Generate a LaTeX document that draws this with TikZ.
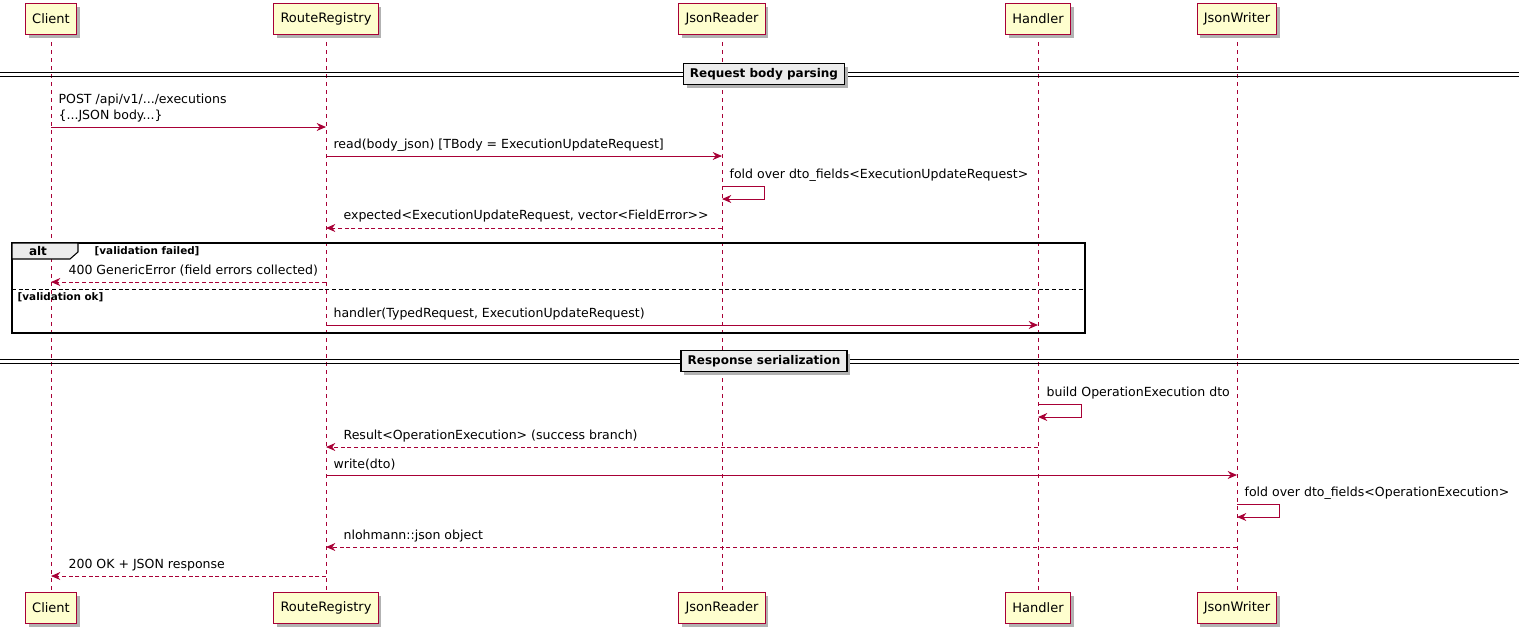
\documentclass[tikz,border=0pt]{standalone}
\usepackage{fontspec}
\setmainfont{DejaVu Sans}
\usetikzlibrary{arrows.meta,shadows}
\definecolor{pr}{HTML}{A80036}
\definecolor{pf}{HTML}{FEFECE}
\begin{document}
\begin{tikzpicture}[x=0.75pt,y=-0.75pt,
  shd/.style={drop shadow={shadow xshift=2.5pt,shadow yshift=-2.5pt,fill=gray!60,opacity=1}},
  part/.style={draw=pr,fill=pf,line width=0.8pt,minimum height=23pt,inner xsep=5pt,font=\fontsize{9.75}{11}\selectfont,anchor=north,shd},
  life/.style={pr,dashed,line width=0.6pt},
  msg/.style={pr,line width=0.7pt,-{Stealth[length=7pt,width=6pt]}},
  ret/.style={msg,densely dashed},
  lab/.style={font=\fontsize{9.4}{11.5}\selectfont,anchor=south west,inner sep=1pt},
  div/.style={draw,fill=gray!15,line width=1pt,font=\bfseries\fontsize{9}{11}\selectfont,inner xsep=5pt,inner ysep=3.5pt,shd}]
\useasboundingbox (0,0) rectangle (1529,633);
\foreach \n/\x/\t in {c/51/Client,r/326/RouteRegistry,j/722/JsonReader,h/1038/Handler,w/1237/JsonWriter}{
  \draw[life] (\x,34) -- (\x,592);
  \node[part] (\n t) at (\x,3) {\t};
  \node[part] (\n b) at (\x,592) {\t};
}
% dividers
\foreach \y/\t in {74/Request body parsing,361/Response serialization}{
  \draw[line width=0.7pt] (0,\y-2) -- (1519,\y-2) (0,\y+2) -- (1519,\y+2);
  \node[div] at (764,\y) {\t};
}
% messages
\draw[msg] (51,127) -- (326,127);
\node[lab] at (57,124) {\shortstack[l]{POST /api/v1/.../executions\\\{...JSON body...\}}};
\draw[msg] (326,156) -- (722,156);
\node[lab] at (332,153) {read(body\_json) [TBody = ExecutionUpdateRequest]};
\draw[msg] (722,186) -- (764,186) -- (764,199) -- (722,199);
\node[lab] at (728,183) {fold over dto\_fields<ExecutionUpdateRequest>};
\draw[ret] (722,228) -- (326,228);
\node[lab] at (342,224) {expected<ExecutionUpdateRequest, vector<FieldError>{}>};
% alt
\draw[line width=1.3pt] (12,243) rectangle (1085,333);
\draw[line width=0.8pt,fill=gray!15] (12,243) -- (78,243) -- (78,252) -- (70,259) -- (12,259) -- cycle;
\node[font=\bfseries\fontsize{9}{11}\selectfont] at (38,251) {alt};
\node[font=\bfseries\fontsize{7.8}{9}\selectfont,anchor=west] at (90,251) {[validation failed]};
\draw[ret] (326,282) -- (51,282);
\node[lab] at (67,278) {400 GenericError (field errors collected)};
\draw[densely dashed,line width=0.6pt] (12,289) -- (1085,289);
\node[font=\bfseries\fontsize{7.8}{9}\selectfont,anchor=west] at (13,297) {[validation ok]};
\draw[msg] (326,325) -- (1038,325);
\node[lab] at (332,322) {handler(TypedRequest, ExecutionUpdateRequest)};
% response
\draw[msg] (1038,404) -- (1081,404) -- (1081,417) -- (1038,417);
\node[lab] at (1045,401) {build OperationExecution dto};
\draw[ret] (1038,447) -- (326,447);
\node[lab] at (342,444) {Result<OperationExecution> (success branch)};
\draw[msg] (326,475) -- (1237,475);
\node[lab] at (332,472) {write(dto)};
\draw[msg] (1237,504) -- (1279,504) -- (1279,517) -- (1237,517);
\node[lab] at (1243,501) {fold over dto\_fields<OperationExecution>};
\draw[ret] (1237,547) -- (326,547);
\node[lab] at (342,544) {nlohmann::json object};
\draw[ret] (326,576) -- (51,576);
\node[lab] at (67,573) {200 OK + JSON response};
\end{tikzpicture}
\end{document}
